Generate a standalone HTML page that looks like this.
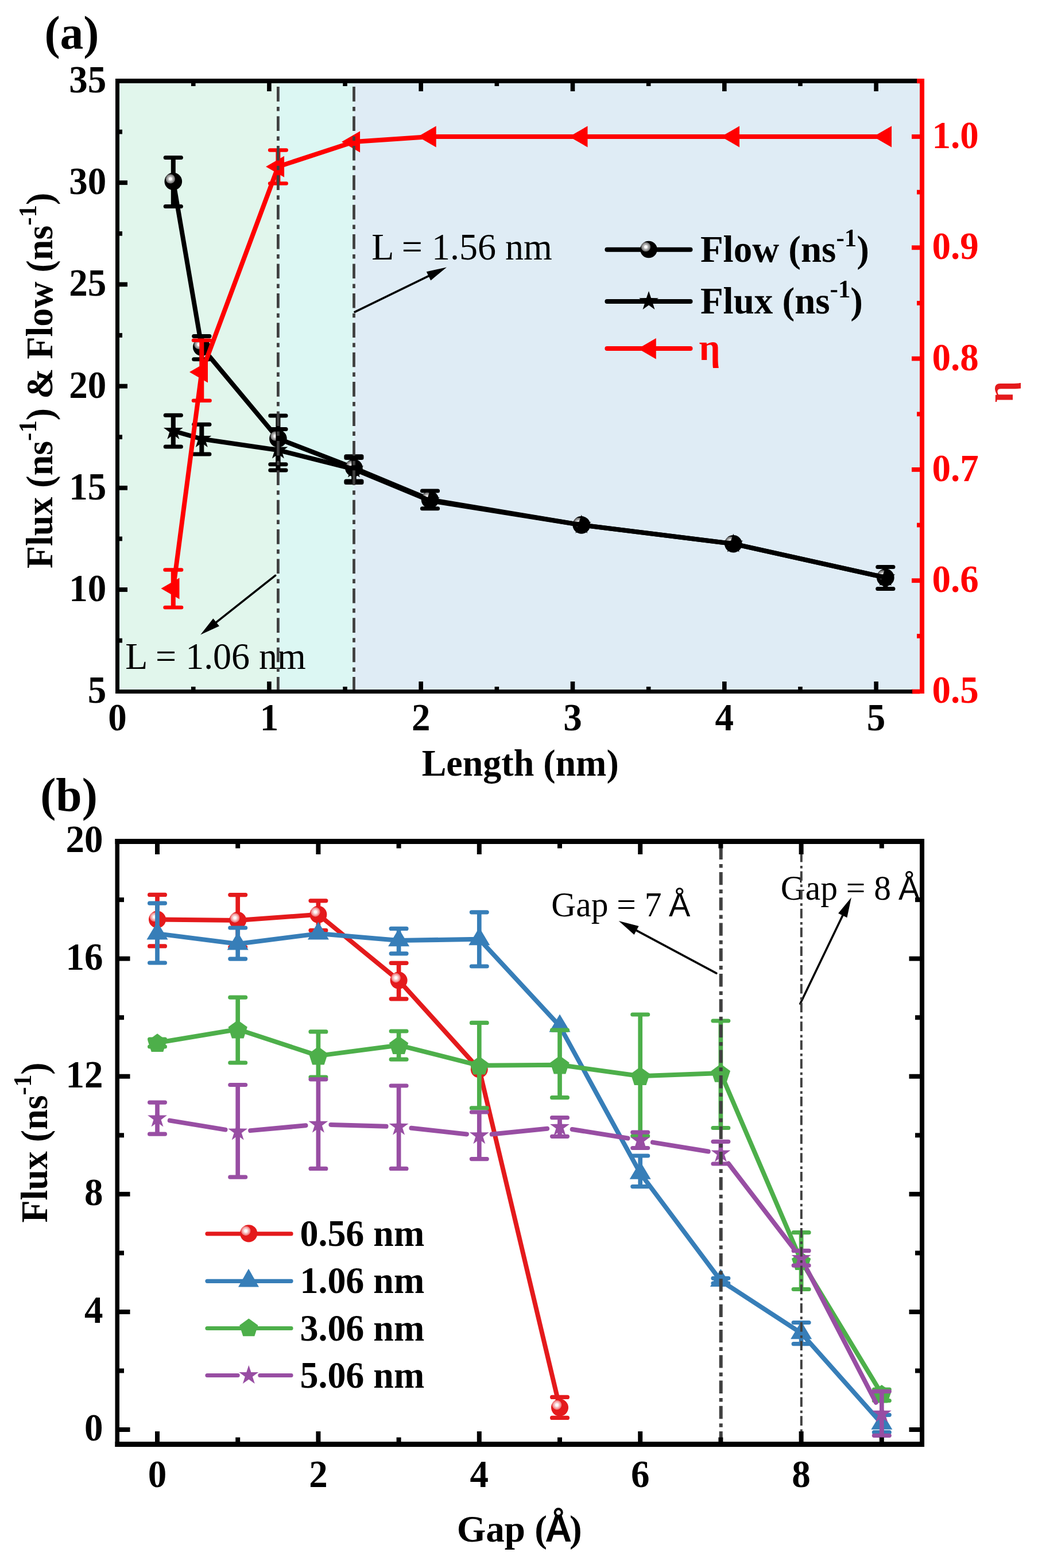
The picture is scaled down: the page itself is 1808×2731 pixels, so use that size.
<!DOCTYPE html>
<html><head><meta charset="utf-8"><title>Figure</title>
<style>html,body{margin:0;padding:0;background:#fff;}svg{display:block;}</style>
</head><body>
<svg width="1808" height="2731" viewBox="0 0 1808 2731"><rect x="208" y="145" width="276.4" height="1056" fill="#E1F6EC"/>
<rect x="484.4" y="145" width="132.1" height="1056" fill="#DCF7F3"/>
<rect x="616.5" y="145" width="985.5" height="1056" fill="#DFECF5"/>
<polyline points="301.8,316 351.3,604.6 484.4,764 616.4,815 749,870.3 1012.8,914.4 1277.3,947.2 1542.3,1005.9" fill="none" stroke="#000" stroke-width="8" stroke-linejoin="round" stroke-linecap="round"/>
<line x1="301.8" y1="274.4" x2="301.8" y2="359.4" stroke="#000" stroke-width="8" stroke-linecap="butt"/>
<line x1="288.2" y1="274.4" x2="315.4" y2="274.4" stroke="#000" stroke-width="7" stroke-linecap="round"/>
<line x1="288.2" y1="359.4" x2="315.4" y2="359.4" stroke="#000" stroke-width="7" stroke-linecap="round"/>
<line x1="351.3" y1="585.5" x2="351.3" y2="625.8" stroke="#000" stroke-width="8" stroke-linecap="butt"/>
<line x1="337.7" y1="585.5" x2="364.9" y2="585.5" stroke="#000" stroke-width="7" stroke-linecap="round"/>
<line x1="337.7" y1="625.8" x2="364.9" y2="625.8" stroke="#000" stroke-width="7" stroke-linecap="round"/>
<line x1="484.4" y1="724" x2="484.4" y2="808.7" stroke="#000" stroke-width="8" stroke-linecap="butt"/>
<line x1="470.8" y1="724" x2="498" y2="724" stroke="#000" stroke-width="7" stroke-linecap="round"/>
<line x1="470.8" y1="808.7" x2="498" y2="808.7" stroke="#000" stroke-width="7" stroke-linecap="round"/>
<line x1="616.4" y1="794.7" x2="616.4" y2="840.6" stroke="#000" stroke-width="8" stroke-linecap="butt"/>
<line x1="602.8" y1="794.7" x2="630" y2="794.7" stroke="#000" stroke-width="7" stroke-linecap="round"/>
<line x1="602.8" y1="840.6" x2="630" y2="840.6" stroke="#000" stroke-width="7" stroke-linecap="round"/>
<line x1="749" y1="855" x2="749" y2="885.8" stroke="#000" stroke-width="8" stroke-linecap="butt"/>
<line x1="735.4" y1="855" x2="762.6" y2="855" stroke="#000" stroke-width="7" stroke-linecap="round"/>
<line x1="735.4" y1="885.8" x2="762.6" y2="885.8" stroke="#000" stroke-width="7" stroke-linecap="round"/>
<line x1="1542.3" y1="987.5" x2="1542.3" y2="1025.5" stroke="#000" stroke-width="8" stroke-linecap="butt"/>
<line x1="1528.7" y1="987.5" x2="1555.9" y2="987.5" stroke="#000" stroke-width="7" stroke-linecap="round"/>
<line x1="1528.7" y1="1025.5" x2="1555.9" y2="1025.5" stroke="#000" stroke-width="7" stroke-linecap="round"/>
<circle cx="301.8" cy="316" r="15.3" fill="#000"/>
<circle cx="296.8" cy="311.5" r="8.1" fill="#808080"/>
<circle cx="296.8" cy="311.5" r="5.7" fill="#b4b4b4"/>
<circle cx="296.8" cy="311.5" r="3.1" fill="#fafafa"/>
<circle cx="351.3" cy="604.6" r="15.3" fill="#000"/>
<circle cx="346.3" cy="600.1" r="8.1" fill="#808080"/>
<circle cx="346.3" cy="600.1" r="5.7" fill="#b4b4b4"/>
<circle cx="346.3" cy="600.1" r="3.1" fill="#fafafa"/>
<circle cx="484.4" cy="764" r="15.3" fill="#000"/>
<circle cx="479.4" cy="759.5" r="8.1" fill="#808080"/>
<circle cx="479.4" cy="759.5" r="5.7" fill="#b4b4b4"/>
<circle cx="479.4" cy="759.5" r="3.1" fill="#fafafa"/>
<circle cx="616.4" cy="815" r="15.3" fill="#000"/>
<circle cx="611.4" cy="810.5" r="8.1" fill="#808080"/>
<circle cx="611.4" cy="810.5" r="5.7" fill="#b4b4b4"/>
<circle cx="611.4" cy="810.5" r="3.1" fill="#fafafa"/>
<circle cx="749" cy="870.3" r="15.3" fill="#000"/>
<circle cx="744" cy="865.8" r="8.1" fill="#808080"/>
<circle cx="744" cy="865.8" r="5.7" fill="#b4b4b4"/>
<circle cx="744" cy="865.8" r="3.1" fill="#fafafa"/>
<circle cx="1012.8" cy="914.4" r="15.3" fill="#000"/>
<circle cx="1007.8" cy="909.9" r="8.1" fill="#808080"/>
<circle cx="1007.8" cy="909.9" r="5.7" fill="#b4b4b4"/>
<circle cx="1007.8" cy="909.9" r="3.1" fill="#fafafa"/>
<circle cx="1277.3" cy="947.2" r="15.3" fill="#000"/>
<circle cx="1272.3" cy="942.7" r="8.1" fill="#808080"/>
<circle cx="1272.3" cy="942.7" r="5.7" fill="#b4b4b4"/>
<circle cx="1272.3" cy="942.7" r="3.1" fill="#fafafa"/>
<circle cx="1542.3" cy="1005.9" r="15.3" fill="#000"/>
<circle cx="1537.3" cy="1001.4" r="8.1" fill="#808080"/>
<circle cx="1537.3" cy="1001.4" r="5.7" fill="#b4b4b4"/>
<circle cx="1537.3" cy="1001.4" r="3.1" fill="#fafafa"/>
<polyline points="301.8,750.5 351.3,764.5 484.4,784 616.4,817 749,872 1012.8,914.4 1277.3,947.2 1542.3,1005.9" fill="none" stroke="#000" stroke-width="8" stroke-linejoin="round" stroke-linecap="round"/>
<line x1="301.8" y1="723.3" x2="301.8" y2="778.1" stroke="#000" stroke-width="8" stroke-linecap="butt"/>
<line x1="288.2" y1="723.3" x2="315.4" y2="723.3" stroke="#000" stroke-width="7" stroke-linecap="round"/>
<line x1="288.2" y1="778.1" x2="315.4" y2="778.1" stroke="#000" stroke-width="7" stroke-linecap="round"/>
<line x1="351.3" y1="739.3" x2="351.3" y2="790.9" stroke="#000" stroke-width="8" stroke-linecap="butt"/>
<line x1="337.7" y1="739.3" x2="364.9" y2="739.3" stroke="#000" stroke-width="7" stroke-linecap="round"/>
<line x1="337.7" y1="790.9" x2="364.9" y2="790.9" stroke="#000" stroke-width="7" stroke-linecap="round"/>
<line x1="484.4" y1="747.5" x2="484.4" y2="819" stroke="#000" stroke-width="8" stroke-linecap="butt"/>
<line x1="470.8" y1="747.5" x2="498" y2="747.5" stroke="#000" stroke-width="7" stroke-linecap="round"/>
<line x1="470.8" y1="819" x2="498" y2="819" stroke="#000" stroke-width="7" stroke-linecap="round"/>
<line x1="616.4" y1="797.5" x2="616.4" y2="838" stroke="#000" stroke-width="8" stroke-linecap="butt"/>
<line x1="602.8" y1="797.5" x2="630" y2="797.5" stroke="#000" stroke-width="7" stroke-linecap="round"/>
<line x1="602.8" y1="838" x2="630" y2="838" stroke="#000" stroke-width="7" stroke-linecap="round"/>
<polygon points="301.8,732.7 305.86,744.92 318.73,745 308.36,752.63 312.26,764.9 301.8,757.4 291.34,764.9 295.24,752.63 284.87,745 297.74,744.92" fill="#000"/>
<polygon points="351.3,746.7 355.36,758.92 368.23,759 357.86,766.63 361.76,778.9 351.3,771.4 340.84,778.9 344.74,766.63 334.37,759 347.24,758.92" fill="#000"/>
<polygon points="484.4,766.2 488.46,778.42 501.33,778.5 490.96,786.13 494.86,798.4 484.4,790.9 473.94,798.4 477.84,786.13 467.47,778.5 480.34,778.42" fill="#000"/>
<polygon points="616.4,799.2 620.46,811.42 633.33,811.5 622.96,819.13 626.86,831.4 616.4,823.9 605.94,831.4 609.84,819.13 599.47,811.5 612.34,811.42" fill="#000"/>
<polygon points="749,854.2 753.06,866.42 765.93,866.5 755.56,874.13 759.46,886.4 749,878.9 738.54,886.4 742.44,874.13 732.07,866.5 744.94,866.42" fill="#000"/>
<polygon points="1012.8,896.6 1016.86,908.82 1029.73,908.9 1019.36,916.53 1023.26,928.8 1012.8,921.3 1002.34,928.8 1006.24,916.53 995.87,908.9 1008.74,908.82" fill="#000"/>
<polygon points="1277.3,929.4 1281.36,941.62 1294.23,941.7 1283.86,949.33 1287.76,961.6 1277.3,954.1 1266.84,961.6 1270.74,949.33 1260.37,941.7 1273.24,941.62" fill="#000"/>
<polygon points="1542.3,988.1 1546.36,1000.32 1559.23,1000.4 1548.86,1008.03 1552.76,1020.3 1542.3,1012.8 1531.84,1020.3 1535.74,1008.03 1525.37,1000.4 1538.24,1000.32" fill="#000"/>
<polyline points="301.8,1025 351.3,648 484.4,290.3 616.4,247 749,238 1012.8,238 1277.3,238 1542.3,238" fill="none" stroke="#FF0000" stroke-width="8" stroke-linejoin="round" stroke-linecap="round"/>
<line x1="301.8" y1="992.6" x2="301.8" y2="1058" stroke="#FF0000" stroke-width="8" stroke-linecap="butt"/>
<line x1="287.55" y1="992.6" x2="316.05" y2="992.6" stroke="#FF0000" stroke-width="6.5" stroke-linecap="round"/>
<line x1="287.55" y1="1058" x2="316.05" y2="1058" stroke="#FF0000" stroke-width="6.5" stroke-linecap="round"/>
<line x1="351.3" y1="592.7" x2="351.3" y2="697.8" stroke="#FF0000" stroke-width="8" stroke-linecap="butt"/>
<line x1="337.05" y1="592.7" x2="365.55" y2="592.7" stroke="#FF0000" stroke-width="6.5" stroke-linecap="round"/>
<line x1="337.05" y1="697.8" x2="365.55" y2="697.8" stroke="#FF0000" stroke-width="6.5" stroke-linecap="round"/>
<line x1="484.4" y1="261.6" x2="484.4" y2="319.4" stroke="#FF0000" stroke-width="8" stroke-linecap="butt"/>
<line x1="470.15" y1="261.6" x2="498.65" y2="261.6" stroke="#FF0000" stroke-width="6.5" stroke-linecap="round"/>
<line x1="470.15" y1="319.4" x2="498.65" y2="319.4" stroke="#FF0000" stroke-width="6.5" stroke-linecap="round"/>
<polygon points="280.47,1025 312.47,1006.5 312.47,1043.5" fill="#FF0000"/>
<polygon points="329.97,648 361.97,629.5 361.97,666.5" fill="#FF0000"/>
<polygon points="463.07,290.3 495.07,271.8 495.07,308.8" fill="#FF0000"/>
<polygon points="595.07,247 627.07,228.5 627.07,265.5" fill="#FF0000"/>
<polygon points="727.67,238 759.67,219.5 759.67,256.5" fill="#FF0000"/>
<polygon points="991.47,238 1023.47,219.5 1023.47,256.5" fill="#FF0000"/>
<polygon points="1255.97,238 1287.97,219.5 1287.97,256.5" fill="#FF0000"/>
<polygon points="1520.97,238 1552.97,219.5 1552.97,256.5" fill="#FF0000"/>
<text x="647.16" y="452" font-family="'Liberation Serif','Times New Roman',serif" font-size="64" font-weight="normal" fill="#000" text-anchor="start" transform="matrix(1,0,0,1.02,0,-9.04)">L = 1.56 nm</text>
<text x="218.36" y="1164.8" font-family="'Liberation Serif','Times New Roman',serif" font-size="64" font-weight="normal" fill="#000" text-anchor="start" transform="matrix(1,0,0,1.02,0,-23.3)">L = 1.06 nm</text>
<line x1="618" y1="543.3" x2="748.32" y2="479.93" stroke="#000" stroke-width="3.6" stroke-linecap="round"/>
<polygon points="778,465.5 750.24,488.45 742.81,473.16" fill="#000"/>
<line x1="479.6" y1="1002.3" x2="375.07" y2="1085.11" stroke="#000" stroke-width="3.6" stroke-linecap="round"/>
<polygon points="349.2,1105.6 371.36,1077.2 381.91,1090.53" fill="#000"/>
<line x1="484.4" y1="151.1" x2="484.4" y2="1201" stroke="#404040" stroke-width="4.8" stroke-linecap="butt" stroke-dasharray="25.6 9.3 7.5 9"/>
<line x1="616.5" y1="151.1" x2="616.5" y2="1201" stroke="#404040" stroke-width="4.8" stroke-linecap="butt" stroke-dasharray="25.6 9.3 7.5 9"/>
<line x1="1057.4" y1="434.8" x2="1202.5" y2="434.8" stroke="#000" stroke-width="8" stroke-linecap="round"/>
<circle cx="1129.9" cy="434.5" r="14.8" fill="#000"/>
<circle cx="1124.9" cy="430" r="8.1" fill="#808080"/>
<circle cx="1124.9" cy="430" r="5.7" fill="#b4b4b4"/>
<circle cx="1124.9" cy="430" r="3.1" fill="#fafafa"/>
<line x1="1057.4" y1="525" x2="1202.5" y2="525" stroke="#000" stroke-width="8" stroke-linecap="round"/>
<polygon points="1130,506.9 1134.06,519.12 1146.93,519.2 1136.56,526.83 1140.46,539.1 1130,531.6 1119.54,539.1 1123.44,526.83 1113.07,519.2 1125.94,519.12" fill="#000"/>
<line x1="1057.4" y1="607" x2="1202.5" y2="607" stroke="#FF0000" stroke-width="8" stroke-linecap="round"/>
<polygon points="1111.37,607.2 1142.77,588.9 1142.77,625.5" fill="#FF0000"/>
<text x="1219.89" y="456.5" transform="matrix(1,0,0,1.02,0,-9.13)" font-family="'Liberation Serif','Times New Roman',serif" font-size="65" font-weight="bold">Flow (ns<tspan font-size="42.9" dy="-27">-1</tspan><tspan dy="27">)</tspan></text>
<text x="1219.89" y="545.8" transform="matrix(1,0,0,1.02,0,-10.92)" font-family="'Liberation Serif','Times New Roman',serif" font-size="65" font-weight="bold">Flux (ns<tspan font-size="42.9" dy="-27">-1</tspan><tspan dy="27">)</tspan></text>
<text x="1217.62" y="627" font-family="'Liberation Serif','Times New Roman',serif" font-size="65" font-weight="bold" fill="#FF0000" text-anchor="start" transform="matrix(1,0,0,1.02,0,-12.54)">η</text>
<line x1="336.75" y1="1201" x2="336.75" y2="1196" stroke="#000" stroke-width="7.6" stroke-linecap="butt"/>
<line x1="336.75" y1="145" x2="336.75" y2="150" stroke="#000" stroke-width="7.6" stroke-linecap="butt"/>
<line x1="468.9" y1="1201" x2="468.9" y2="1187" stroke="#000" stroke-width="7.6" stroke-linecap="butt"/>
<line x1="468.9" y1="145" x2="468.9" y2="159" stroke="#000" stroke-width="7.6" stroke-linecap="butt"/>
<line x1="601.05" y1="1201" x2="601.05" y2="1196" stroke="#000" stroke-width="7.6" stroke-linecap="butt"/>
<line x1="601.05" y1="145" x2="601.05" y2="150" stroke="#000" stroke-width="7.6" stroke-linecap="butt"/>
<line x1="733.2" y1="1201" x2="733.2" y2="1187" stroke="#000" stroke-width="7.6" stroke-linecap="butt"/>
<line x1="733.2" y1="145" x2="733.2" y2="159" stroke="#000" stroke-width="7.6" stroke-linecap="butt"/>
<line x1="865.35" y1="1201" x2="865.35" y2="1196" stroke="#000" stroke-width="7.6" stroke-linecap="butt"/>
<line x1="865.35" y1="145" x2="865.35" y2="150" stroke="#000" stroke-width="7.6" stroke-linecap="butt"/>
<line x1="997.5" y1="1201" x2="997.5" y2="1187" stroke="#000" stroke-width="7.6" stroke-linecap="butt"/>
<line x1="997.5" y1="145" x2="997.5" y2="159" stroke="#000" stroke-width="7.6" stroke-linecap="butt"/>
<line x1="1129.65" y1="1201" x2="1129.65" y2="1196" stroke="#000" stroke-width="7.6" stroke-linecap="butt"/>
<line x1="1129.65" y1="145" x2="1129.65" y2="150" stroke="#000" stroke-width="7.6" stroke-linecap="butt"/>
<line x1="1261.8" y1="1201" x2="1261.8" y2="1187" stroke="#000" stroke-width="7.6" stroke-linecap="butt"/>
<line x1="1261.8" y1="145" x2="1261.8" y2="159" stroke="#000" stroke-width="7.6" stroke-linecap="butt"/>
<line x1="1393.95" y1="1201" x2="1393.95" y2="1196" stroke="#000" stroke-width="7.6" stroke-linecap="butt"/>
<line x1="1393.95" y1="145" x2="1393.95" y2="150" stroke="#000" stroke-width="7.6" stroke-linecap="butt"/>
<line x1="1526.1" y1="1201" x2="1526.1" y2="1187" stroke="#000" stroke-width="7.6" stroke-linecap="butt"/>
<line x1="1526.1" y1="145" x2="1526.1" y2="159" stroke="#000" stroke-width="7.6" stroke-linecap="butt"/>
<line x1="208" y1="1115.6" x2="213" y2="1115.6" stroke="#000" stroke-width="7.8" stroke-linecap="butt"/>
<line x1="208" y1="1027" x2="222" y2="1027" stroke="#000" stroke-width="7.8" stroke-linecap="butt"/>
<line x1="208" y1="938.4" x2="213" y2="938.4" stroke="#000" stroke-width="7.8" stroke-linecap="butt"/>
<line x1="208" y1="849.8" x2="222" y2="849.8" stroke="#000" stroke-width="7.8" stroke-linecap="butt"/>
<line x1="208" y1="761.2" x2="213" y2="761.2" stroke="#000" stroke-width="7.8" stroke-linecap="butt"/>
<line x1="208" y1="672.6" x2="222" y2="672.6" stroke="#000" stroke-width="7.8" stroke-linecap="butt"/>
<line x1="208" y1="584" x2="213" y2="584" stroke="#000" stroke-width="7.8" stroke-linecap="butt"/>
<line x1="208" y1="495.4" x2="222" y2="495.4" stroke="#000" stroke-width="7.8" stroke-linecap="butt"/>
<line x1="208" y1="406.8" x2="213" y2="406.8" stroke="#000" stroke-width="7.8" stroke-linecap="butt"/>
<line x1="208" y1="318.2" x2="222" y2="318.2" stroke="#000" stroke-width="7.8" stroke-linecap="butt"/>
<line x1="208" y1="229.6" x2="213" y2="229.6" stroke="#000" stroke-width="7.8" stroke-linecap="butt"/>
<line x1="1602" y1="1204.5" x2="1588" y2="1204.5" stroke="#FF0000" stroke-width="7.8" stroke-linecap="butt"/>
<line x1="1602" y1="1107.85" x2="1597" y2="1107.85" stroke="#FF0000" stroke-width="7.8" stroke-linecap="butt"/>
<line x1="1602" y1="1011.2" x2="1588" y2="1011.2" stroke="#FF0000" stroke-width="7.8" stroke-linecap="butt"/>
<line x1="1602" y1="914.55" x2="1597" y2="914.55" stroke="#FF0000" stroke-width="7.8" stroke-linecap="butt"/>
<line x1="1602" y1="817.9" x2="1588" y2="817.9" stroke="#FF0000" stroke-width="7.8" stroke-linecap="butt"/>
<line x1="1602" y1="721.25" x2="1597" y2="721.25" stroke="#FF0000" stroke-width="7.8" stroke-linecap="butt"/>
<line x1="1602" y1="624.6" x2="1588" y2="624.6" stroke="#FF0000" stroke-width="7.8" stroke-linecap="butt"/>
<line x1="1602" y1="527.95" x2="1597" y2="527.95" stroke="#FF0000" stroke-width="7.8" stroke-linecap="butt"/>
<line x1="1602" y1="431.3" x2="1588" y2="431.3" stroke="#FF0000" stroke-width="7.8" stroke-linecap="butt"/>
<line x1="1602" y1="334.65" x2="1597" y2="334.65" stroke="#FF0000" stroke-width="7.8" stroke-linecap="butt"/>
<line x1="1602" y1="238" x2="1588" y2="238" stroke="#FF0000" stroke-width="7.8" stroke-linecap="butt"/>
<line x1="1602" y1="141.35" x2="1597" y2="141.35" stroke="#FF0000" stroke-width="7.8" stroke-linecap="butt"/>
<rect x="201" y="137" width="1396" height="8" fill="#000"/>
<rect x="201" y="1201" width="1388" height="7" fill="#000"/>
<rect x="201" y="137" width="7" height="1071" fill="#000"/>
<rect x="1602" y="137" width="8" height="1071" fill="#FF0000"/>
<rect x="1597" y="137" width="13" height="8" fill="#FF0000"/>
<text x="185.3" y="1224.2" font-family="'Liberation Serif','Times New Roman',serif" font-size="65" font-weight="bold" fill="#000" text-anchor="end" transform="matrix(1,0,0,1.045,0,-55.09)">5</text>
<text x="185.3" y="1047" font-family="'Liberation Serif','Times New Roman',serif" font-size="65" font-weight="bold" fill="#000" text-anchor="end" transform="matrix(1,0,0,1.045,0,-47.11)">10</text>
<text x="185.3" y="869.8" font-family="'Liberation Serif','Times New Roman',serif" font-size="65" font-weight="bold" fill="#000" text-anchor="end" transform="matrix(1,0,0,1.045,0,-39.14)">15</text>
<text x="185.3" y="692.6" font-family="'Liberation Serif','Times New Roman',serif" font-size="65" font-weight="bold" fill="#000" text-anchor="end" transform="matrix(1,0,0,1.045,0,-31.17)">20</text>
<text x="185.3" y="515.4" font-family="'Liberation Serif','Times New Roman',serif" font-size="65" font-weight="bold" fill="#000" text-anchor="end" transform="matrix(1,0,0,1.045,0,-23.19)">25</text>
<text x="185.3" y="338.2" font-family="'Liberation Serif','Times New Roman',serif" font-size="65" font-weight="bold" fill="#000" text-anchor="end" transform="matrix(1,0,0,1.045,0,-15.22)">30</text>
<text x="185.3" y="161" font-family="'Liberation Serif','Times New Roman',serif" font-size="65" font-weight="bold" fill="#000" text-anchor="end" transform="matrix(1,0,0,1.045,0,-7.24)">35</text>
<text x="204.6" y="1272.5" font-family="'Liberation Serif','Times New Roman',serif" font-size="65" font-weight="bold" fill="#000" text-anchor="middle" transform="matrix(1,0,0,1.045,0,-57.26)">0</text>
<text x="468.9" y="1272.5" font-family="'Liberation Serif','Times New Roman',serif" font-size="65" font-weight="bold" fill="#000" text-anchor="middle" transform="matrix(1,0,0,1.045,0,-57.26)">1</text>
<text x="733.2" y="1272.5" font-family="'Liberation Serif','Times New Roman',serif" font-size="65" font-weight="bold" fill="#000" text-anchor="middle" transform="matrix(1,0,0,1.045,0,-57.26)">2</text>
<text x="997.5" y="1272.5" font-family="'Liberation Serif','Times New Roman',serif" font-size="65" font-weight="bold" fill="#000" text-anchor="middle" transform="matrix(1,0,0,1.045,0,-57.26)">3</text>
<text x="1261.8" y="1272.5" font-family="'Liberation Serif','Times New Roman',serif" font-size="65" font-weight="bold" fill="#000" text-anchor="middle" transform="matrix(1,0,0,1.045,0,-57.26)">4</text>
<text x="1526.1" y="1272.5" font-family="'Liberation Serif','Times New Roman',serif" font-size="65" font-weight="bold" fill="#000" text-anchor="middle" transform="matrix(1,0,0,1.045,0,-57.26)">5</text>
<text x="1623.4" y="1224.5" font-family="'Liberation Serif','Times New Roman',serif" font-size="65" font-weight="bold" fill="#FF0000" text-anchor="start" transform="matrix(1,0,0,1.045,0,-55.1)">0.5</text>
<text x="1623.4" y="1031.2" font-family="'Liberation Serif','Times New Roman',serif" font-size="65" font-weight="bold" fill="#FF0000" text-anchor="start" transform="matrix(1,0,0,1.045,0,-46.4)">0.6</text>
<text x="1623.4" y="837.9" font-family="'Liberation Serif','Times New Roman',serif" font-size="65" font-weight="bold" fill="#FF0000" text-anchor="start" transform="matrix(1,0,0,1.045,0,-37.71)">0.7</text>
<text x="1623.4" y="644.6" font-family="'Liberation Serif','Times New Roman',serif" font-size="65" font-weight="bold" fill="#FF0000" text-anchor="start" transform="matrix(1,0,0,1.045,0,-29.01)">0.8</text>
<text x="1623.4" y="451.3" font-family="'Liberation Serif','Times New Roman',serif" font-size="65" font-weight="bold" fill="#FF0000" text-anchor="start" transform="matrix(1,0,0,1.045,0,-20.31)">0.9</text>
<text x="1623.4" y="258" font-family="'Liberation Serif','Times New Roman',serif" font-size="65" font-weight="bold" fill="#FF0000" text-anchor="start" transform="matrix(1,0,0,1.045,0,-11.61)">1.0</text>
<text x="77.42" y="85" font-family="'Liberation Serif','Times New Roman',serif" font-size="81.5" font-weight="bold" fill="#000" text-anchor="start">(a)</text>
<text x="734.71" y="1350.8" font-family="'Liberation Serif','Times New Roman',serif" font-size="64" font-weight="bold" fill="#000" text-anchor="start" transform="matrix(1,0,0,1.02,0,-27.02)">Length (nm)</text>
<text transform="translate(91,990.1) rotate(-90) scale(1,1.02)" x="0" y="0" font-family="'Liberation Serif','Times New Roman',serif" font-size="64" font-weight="bold" fill="#000">Flux (ns<tspan font-size="42.9" dy="-27">-1</tspan><tspan dy="27">) &amp; Flow (ns</tspan><tspan font-size="42.9" dy="-27">-1</tspan><tspan dy="27">)</tspan></text>
<text transform="translate(1763.6,701) rotate(-90) scale(1,1.02)" x="0" y="0" font-family="'Liberation Serif','Times New Roman',serif" font-size="65" font-weight="bold" fill="#E41A1C">η</text>
<polyline points="274,1601.49 414.2,1603.03 554.4,1592.78 694.6,1707.62 834.8,1862.46 975,2451.55" fill="none" stroke="#E41A1C" stroke-width="8" stroke-linejoin="round" stroke-linecap="round"/>
<line x1="274" y1="1558.4" x2="274" y2="1647.9" stroke="#E41A1C" stroke-width="7.7" stroke-linecap="butt"/>
<line x1="260.6" y1="1558.4" x2="287.4" y2="1558.4" stroke="#E41A1C" stroke-width="7.2" stroke-linecap="round"/>
<line x1="260.6" y1="1647.9" x2="287.4" y2="1647.9" stroke="#E41A1C" stroke-width="7.2" stroke-linecap="round"/>
<line x1="414.2" y1="1558.6" x2="414.2" y2="1649.7" stroke="#E41A1C" stroke-width="7.7" stroke-linecap="butt"/>
<line x1="400.8" y1="1558.6" x2="427.6" y2="1558.6" stroke="#E41A1C" stroke-width="7.2" stroke-linecap="round"/>
<line x1="400.8" y1="1649.7" x2="427.6" y2="1649.7" stroke="#E41A1C" stroke-width="7.2" stroke-linecap="round"/>
<line x1="554.4" y1="1568.8" x2="554.4" y2="1620.4" stroke="#E41A1C" stroke-width="7.7" stroke-linecap="butt"/>
<line x1="541" y1="1568.8" x2="567.8" y2="1568.8" stroke="#E41A1C" stroke-width="7.2" stroke-linecap="round"/>
<line x1="541" y1="1620.4" x2="567.8" y2="1620.4" stroke="#E41A1C" stroke-width="7.2" stroke-linecap="round"/>
<line x1="694.6" y1="1677.3" x2="694.6" y2="1739.8" stroke="#E41A1C" stroke-width="7.7" stroke-linecap="butt"/>
<line x1="681.2" y1="1677.3" x2="708" y2="1677.3" stroke="#E41A1C" stroke-width="7.2" stroke-linecap="round"/>
<line x1="681.2" y1="1739.8" x2="708" y2="1739.8" stroke="#E41A1C" stroke-width="7.2" stroke-linecap="round"/>
<line x1="975" y1="2433.4" x2="975" y2="2469.4" stroke="#E41A1C" stroke-width="7.7" stroke-linecap="butt"/>
<line x1="961.6" y1="2433.4" x2="988.4" y2="2433.4" stroke="#E41A1C" stroke-width="7.2" stroke-linecap="round"/>
<line x1="961.6" y1="2469.4" x2="988.4" y2="2469.4" stroke="#E41A1C" stroke-width="7.2" stroke-linecap="round"/>
<circle cx="274" cy="1601.49" r="15" fill="#E41A1C"/>
<circle cx="269" cy="1596.99" r="8.1" fill="#F08A8C"/>
<circle cx="269" cy="1596.99" r="5.7" fill="#F8C4C5"/>
<circle cx="269" cy="1596.99" r="3.1" fill="#fafafa"/>
<circle cx="414.2" cy="1603.03" r="15" fill="#E41A1C"/>
<circle cx="409.2" cy="1598.53" r="8.1" fill="#F08A8C"/>
<circle cx="409.2" cy="1598.53" r="5.7" fill="#F8C4C5"/>
<circle cx="409.2" cy="1598.53" r="3.1" fill="#fafafa"/>
<circle cx="554.4" cy="1592.78" r="15" fill="#E41A1C"/>
<circle cx="549.4" cy="1588.28" r="8.1" fill="#F08A8C"/>
<circle cx="549.4" cy="1588.28" r="5.7" fill="#F8C4C5"/>
<circle cx="549.4" cy="1588.28" r="3.1" fill="#fafafa"/>
<circle cx="694.6" cy="1707.62" r="15" fill="#E41A1C"/>
<circle cx="689.6" cy="1703.12" r="8.1" fill="#F08A8C"/>
<circle cx="689.6" cy="1703.12" r="5.7" fill="#F8C4C5"/>
<circle cx="689.6" cy="1703.12" r="3.1" fill="#fafafa"/>
<circle cx="834.8" cy="1862.46" r="15" fill="#E41A1C"/>
<circle cx="829.8" cy="1857.96" r="8.1" fill="#F08A8C"/>
<circle cx="829.8" cy="1857.96" r="5.7" fill="#F8C4C5"/>
<circle cx="829.8" cy="1857.96" r="3.1" fill="#fafafa"/>
<circle cx="975" cy="2451.55" r="15" fill="#E41A1C"/>
<circle cx="970" cy="2447.05" r="8.1" fill="#F08A8C"/>
<circle cx="970" cy="2447.05" r="5.7" fill="#F8C4C5"/>
<circle cx="970" cy="2447.05" r="3.1" fill="#fafafa"/>
<polyline points="274,1626.1 414.2,1644.05 554.4,1626.1 694.6,1637.89 834.8,1635.84 975,1787.09 1115.2,2043.44 1255.4,2230.57 1395.6,2321.83 1535.8,2479.49" fill="none" stroke="#377EB8" stroke-width="8" stroke-linejoin="round" stroke-linecap="round"/>
<line x1="274" y1="1573.2" x2="274" y2="1677" stroke="#377EB8" stroke-width="7.7" stroke-linecap="butt"/>
<line x1="260.6" y1="1573.2" x2="287.4" y2="1573.2" stroke="#377EB8" stroke-width="7.2" stroke-linecap="round"/>
<line x1="260.6" y1="1677" x2="287.4" y2="1677" stroke="#377EB8" stroke-width="7.2" stroke-linecap="round"/>
<line x1="414.2" y1="1616" x2="414.2" y2="1670.1" stroke="#377EB8" stroke-width="7.7" stroke-linecap="butt"/>
<line x1="400.8" y1="1616" x2="427.6" y2="1616" stroke="#377EB8" stroke-width="7.2" stroke-linecap="round"/>
<line x1="400.8" y1="1670.1" x2="427.6" y2="1670.1" stroke="#377EB8" stroke-width="7.2" stroke-linecap="round"/>
<line x1="694.6" y1="1617.4" x2="694.6" y2="1660.8" stroke="#377EB8" stroke-width="7.7" stroke-linecap="butt"/>
<line x1="681.2" y1="1617.4" x2="708" y2="1617.4" stroke="#377EB8" stroke-width="7.2" stroke-linecap="round"/>
<line x1="681.2" y1="1660.8" x2="708" y2="1660.8" stroke="#377EB8" stroke-width="7.2" stroke-linecap="round"/>
<line x1="834.8" y1="1588.8" x2="834.8" y2="1683" stroke="#377EB8" stroke-width="7.7" stroke-linecap="butt"/>
<line x1="821.4" y1="1588.8" x2="848.2" y2="1588.8" stroke="#377EB8" stroke-width="7.2" stroke-linecap="round"/>
<line x1="821.4" y1="1683" x2="848.2" y2="1683" stroke="#377EB8" stroke-width="7.2" stroke-linecap="round"/>
<line x1="1115.2" y1="2013" x2="1115.2" y2="2066.6" stroke="#377EB8" stroke-width="7.7" stroke-linecap="butt"/>
<line x1="1101.8" y1="2013" x2="1128.6" y2="2013" stroke="#377EB8" stroke-width="7.2" stroke-linecap="round"/>
<line x1="1101.8" y1="2066.6" x2="1128.6" y2="2066.6" stroke="#377EB8" stroke-width="7.2" stroke-linecap="round"/>
<line x1="1255.4" y1="2226.3" x2="1255.4" y2="2235" stroke="#377EB8" stroke-width="7.7" stroke-linecap="butt"/>
<line x1="1242" y1="2226.3" x2="1268.8" y2="2226.3" stroke="#377EB8" stroke-width="7.2" stroke-linecap="round"/>
<line x1="1242" y1="2235" x2="1268.8" y2="2235" stroke="#377EB8" stroke-width="7.2" stroke-linecap="round"/>
<line x1="1395.6" y1="2303.5" x2="1395.6" y2="2340.7" stroke="#377EB8" stroke-width="7.7" stroke-linecap="butt"/>
<line x1="1382.2" y1="2303.5" x2="1409" y2="2303.5" stroke="#377EB8" stroke-width="7.2" stroke-linecap="round"/>
<line x1="1382.2" y1="2340.7" x2="1409" y2="2340.7" stroke="#377EB8" stroke-width="7.2" stroke-linecap="round"/>
<line x1="1535.8" y1="2464.3" x2="1535.8" y2="2494.7" stroke="#377EB8" stroke-width="7.7" stroke-linecap="butt"/>
<line x1="1522.4" y1="2464.3" x2="1549.2" y2="2464.3" stroke="#377EB8" stroke-width="7.2" stroke-linecap="round"/>
<line x1="1522.4" y1="2494.7" x2="1549.2" y2="2494.7" stroke="#377EB8" stroke-width="7.2" stroke-linecap="round"/>
<polygon points="274,1605.43 292.5,1636.43 255.5,1636.43" fill="#377EB8"/>
<polygon points="414.2,1623.38 432.7,1654.38 395.7,1654.38" fill="#377EB8"/>
<polygon points="554.4,1605.43 572.9,1636.43 535.9,1636.43" fill="#377EB8"/>
<polygon points="694.6,1617.23 713.1,1648.23 676.1,1648.23" fill="#377EB8"/>
<polygon points="834.8,1615.18 853.3,1646.18 816.3,1646.18" fill="#377EB8"/>
<polygon points="975,1766.42 993.5,1797.42 956.5,1797.42" fill="#377EB8"/>
<polygon points="1115.2,2022.77 1133.7,2053.77 1096.7,2053.77" fill="#377EB8"/>
<polygon points="1255.4,2209.91 1273.9,2240.91 1236.9,2240.91" fill="#377EB8"/>
<polygon points="1395.6,2301.17 1414.1,2332.17 1377.1,2332.17" fill="#377EB8"/>
<polygon points="1535.8,2458.82 1554.3,2489.82 1517.3,2489.82" fill="#377EB8"/>
<polyline points="274,1816.31 414.2,1792.73 554.4,1838.87 694.6,1820.41 834.8,1855.79 975,1854.76 1115.2,1874.25 1255.4,1869.12 1395.6,2196.22 1535.8,2427.96" fill="none" stroke="#4DAF4A" stroke-width="8" stroke-linejoin="round" stroke-linecap="round"/>
<line x1="274" y1="1810" x2="274" y2="1823" stroke="#4DAF4A" stroke-width="7.7" stroke-linecap="butt"/>
<line x1="260.6" y1="1810" x2="287.4" y2="1810" stroke="#4DAF4A" stroke-width="7.2" stroke-linecap="round"/>
<line x1="260.6" y1="1823" x2="287.4" y2="1823" stroke="#4DAF4A" stroke-width="7.2" stroke-linecap="round"/>
<line x1="414.2" y1="1737.2" x2="414.2" y2="1851" stroke="#4DAF4A" stroke-width="7.7" stroke-linecap="butt"/>
<line x1="400.8" y1="1737.2" x2="427.6" y2="1737.2" stroke="#4DAF4A" stroke-width="7.2" stroke-linecap="round"/>
<line x1="400.8" y1="1851" x2="427.6" y2="1851" stroke="#4DAF4A" stroke-width="7.2" stroke-linecap="round"/>
<line x1="554.4" y1="1796.9" x2="554.4" y2="1876" stroke="#4DAF4A" stroke-width="7.7" stroke-linecap="butt"/>
<line x1="541" y1="1796.9" x2="567.8" y2="1796.9" stroke="#4DAF4A" stroke-width="7.2" stroke-linecap="round"/>
<line x1="541" y1="1876" x2="567.8" y2="1876" stroke="#4DAF4A" stroke-width="7.2" stroke-linecap="round"/>
<line x1="694.6" y1="1796" x2="694.6" y2="1845.2" stroke="#4DAF4A" stroke-width="7.7" stroke-linecap="butt"/>
<line x1="681.2" y1="1796" x2="708" y2="1796" stroke="#4DAF4A" stroke-width="7.2" stroke-linecap="round"/>
<line x1="681.2" y1="1845.2" x2="708" y2="1845.2" stroke="#4DAF4A" stroke-width="7.2" stroke-linecap="round"/>
<line x1="834.8" y1="1781.4" x2="834.8" y2="1929.9" stroke="#4DAF4A" stroke-width="7.7" stroke-linecap="butt"/>
<line x1="821.4" y1="1781.4" x2="848.2" y2="1781.4" stroke="#4DAF4A" stroke-width="7.2" stroke-linecap="round"/>
<line x1="821.4" y1="1929.9" x2="848.2" y2="1929.9" stroke="#4DAF4A" stroke-width="7.2" stroke-linecap="round"/>
<line x1="975" y1="1794.2" x2="975" y2="1911.7" stroke="#4DAF4A" stroke-width="7.7" stroke-linecap="butt"/>
<line x1="961.6" y1="1794.2" x2="988.4" y2="1794.2" stroke="#4DAF4A" stroke-width="7.2" stroke-linecap="round"/>
<line x1="961.6" y1="1911.7" x2="988.4" y2="1911.7" stroke="#4DAF4A" stroke-width="7.2" stroke-linecap="round"/>
<line x1="1115.2" y1="1767" x2="1115.2" y2="1978.6" stroke="#4DAF4A" stroke-width="7.7" stroke-linecap="butt"/>
<line x1="1101.8" y1="1767" x2="1128.6" y2="1767" stroke="#4DAF4A" stroke-width="7.2" stroke-linecap="round"/>
<line x1="1101.8" y1="1978.6" x2="1128.6" y2="1978.6" stroke="#4DAF4A" stroke-width="7.2" stroke-linecap="round"/>
<line x1="1255.4" y1="1778" x2="1255.4" y2="1964.5" stroke="#4DAF4A" stroke-width="7.7" stroke-linecap="butt"/>
<line x1="1242" y1="1778" x2="1268.8" y2="1778" stroke="#4DAF4A" stroke-width="7.2" stroke-linecap="round"/>
<line x1="1242" y1="1964.5" x2="1268.8" y2="1964.5" stroke="#4DAF4A" stroke-width="7.2" stroke-linecap="round"/>
<line x1="1395.6" y1="2146.7" x2="1395.6" y2="2245.5" stroke="#4DAF4A" stroke-width="7.7" stroke-linecap="butt"/>
<line x1="1382.2" y1="2146.7" x2="1409" y2="2146.7" stroke="#4DAF4A" stroke-width="7.2" stroke-linecap="round"/>
<line x1="1382.2" y1="2245.5" x2="1409" y2="2245.5" stroke="#4DAF4A" stroke-width="7.2" stroke-linecap="round"/>
<line x1="1535.8" y1="2420" x2="1535.8" y2="2439.5" stroke="#4DAF4A" stroke-width="7.7" stroke-linecap="butt"/>
<line x1="1522.4" y1="2420" x2="1549.2" y2="2420" stroke="#4DAF4A" stroke-width="7.2" stroke-linecap="round"/>
<line x1="1522.4" y1="2439.5" x2="1549.2" y2="2439.5" stroke="#4DAF4A" stroke-width="7.2" stroke-linecap="round"/>
<polygon points="274,1800.31 290.64,1812.4 284.29,1831.97 263.71,1831.97 257.36,1812.4" fill="#4DAF4A"/>
<polygon points="414.2,1776.73 430.84,1788.82 424.49,1808.39 403.91,1808.39 397.56,1788.82" fill="#4DAF4A"/>
<polygon points="554.4,1822.87 571.04,1834.96 564.69,1854.53 544.11,1854.53 537.76,1834.96" fill="#4DAF4A"/>
<polygon points="694.6,1804.41 711.24,1816.51 704.89,1836.07 684.31,1836.07 677.96,1816.51" fill="#4DAF4A"/>
<polygon points="834.8,1839.79 851.44,1851.88 845.09,1871.45 824.51,1871.45 818.16,1851.88" fill="#4DAF4A"/>
<polygon points="975,1838.76 991.64,1850.86 985.29,1870.42 964.71,1870.42 958.36,1850.86" fill="#4DAF4A"/>
<polygon points="1115.2,1858.25 1131.84,1870.34 1125.49,1889.91 1104.91,1889.91 1098.56,1870.34" fill="#4DAF4A"/>
<polygon points="1255.4,1853.12 1272.04,1865.21 1265.69,1884.78 1245.11,1884.78 1238.76,1865.21" fill="#4DAF4A"/>
<polygon points="1395.6,2180.22 1412.24,2192.32 1405.89,2211.88 1385.31,2211.88 1378.96,2192.32" fill="#4DAF4A"/>
<polygon points="1535.8,2411.96 1552.44,2424.06 1546.09,2443.62 1525.51,2443.62 1519.16,2424.06" fill="#4DAF4A"/>
<line x1="295.71" y1="1951.65" x2="392.49" y2="1967.58" stroke="#984EA3" stroke-width="8" stroke-linecap="round"/>
<line x1="436.11" y1="1969.14" x2="532.49" y2="1960.33" stroke="#984EA3" stroke-width="8" stroke-linecap="round"/>
<line x1="576.39" y1="1958.97" x2="672.61" y2="1961.79" stroke="#984EA3" stroke-width="8" stroke-linecap="round"/>
<line x1="716.47" y1="1964.83" x2="812.93" y2="1975.41" stroke="#984EA3" stroke-width="8" stroke-linecap="round"/>
<line x1="856.69" y1="1975.57" x2="953.11" y2="1965.7" stroke="#984EA3" stroke-width="8" stroke-linecap="round"/>
<line x1="996.72" y1="1966.95" x2="1093.48" y2="1982.52" stroke="#984EA3" stroke-width="8" stroke-linecap="round"/>
<line x1="1136.91" y1="1989.59" x2="1233.69" y2="2005.52" stroke="#984EA3" stroke-width="8" stroke-linecap="round"/>
<line x1="1268.8" y1="2026.53" x2="1382.2" y2="2174.16" stroke="#984EA3" stroke-width="8" stroke-linecap="round"/>
<line x1="1405.72" y1="2211.14" x2="1525.68" y2="2442.78" stroke="#984EA3" stroke-width="8" stroke-linecap="round"/>
<line x1="274" y1="1920.1" x2="274" y2="1975.2" stroke="#984EA3" stroke-width="7.7" stroke-linecap="butt"/>
<line x1="260.6" y1="1920.1" x2="287.4" y2="1920.1" stroke="#984EA3" stroke-width="7.2" stroke-linecap="round"/>
<line x1="260.6" y1="1975.2" x2="287.4" y2="1975.2" stroke="#984EA3" stroke-width="7.2" stroke-linecap="round"/>
<line x1="414.2" y1="1889.5" x2="414.2" y2="2050.2" stroke="#984EA3" stroke-width="7.7" stroke-linecap="butt"/>
<line x1="400.8" y1="1889.5" x2="427.6" y2="1889.5" stroke="#984EA3" stroke-width="7.2" stroke-linecap="round"/>
<line x1="400.8" y1="2050.2" x2="427.6" y2="2050.2" stroke="#984EA3" stroke-width="7.2" stroke-linecap="round"/>
<line x1="554.4" y1="1879.8" x2="554.4" y2="2035.4" stroke="#984EA3" stroke-width="7.7" stroke-linecap="butt"/>
<line x1="541" y1="1879.8" x2="567.8" y2="1879.8" stroke="#984EA3" stroke-width="7.2" stroke-linecap="round"/>
<line x1="541" y1="2035.4" x2="567.8" y2="2035.4" stroke="#984EA3" stroke-width="7.2" stroke-linecap="round"/>
<line x1="694.6" y1="1891" x2="694.6" y2="2035.4" stroke="#984EA3" stroke-width="7.7" stroke-linecap="butt"/>
<line x1="681.2" y1="1891" x2="708" y2="1891" stroke="#984EA3" stroke-width="7.2" stroke-linecap="round"/>
<line x1="681.2" y1="2035.4" x2="708" y2="2035.4" stroke="#984EA3" stroke-width="7.2" stroke-linecap="round"/>
<line x1="834.8" y1="1937" x2="834.8" y2="2018.6" stroke="#984EA3" stroke-width="7.7" stroke-linecap="butt"/>
<line x1="821.4" y1="1937" x2="848.2" y2="1937" stroke="#984EA3" stroke-width="7.2" stroke-linecap="round"/>
<line x1="821.4" y1="2018.6" x2="848.2" y2="2018.6" stroke="#984EA3" stroke-width="7.2" stroke-linecap="round"/>
<line x1="975" y1="1946.7" x2="975" y2="1979.3" stroke="#984EA3" stroke-width="7.7" stroke-linecap="butt"/>
<line x1="961.6" y1="1946.7" x2="988.4" y2="1946.7" stroke="#984EA3" stroke-width="7.2" stroke-linecap="round"/>
<line x1="961.6" y1="1979.3" x2="988.4" y2="1979.3" stroke="#984EA3" stroke-width="7.2" stroke-linecap="round"/>
<line x1="1115.2" y1="1972.2" x2="1115.2" y2="1999.5" stroke="#984EA3" stroke-width="7.7" stroke-linecap="butt"/>
<line x1="1101.8" y1="1972.2" x2="1128.6" y2="1972.2" stroke="#984EA3" stroke-width="7.2" stroke-linecap="round"/>
<line x1="1101.8" y1="1999.5" x2="1128.6" y2="1999.5" stroke="#984EA3" stroke-width="7.2" stroke-linecap="round"/>
<line x1="1255.4" y1="1988.3" x2="1255.4" y2="2027" stroke="#984EA3" stroke-width="7.7" stroke-linecap="butt"/>
<line x1="1242" y1="1988.3" x2="1268.8" y2="1988.3" stroke="#984EA3" stroke-width="7.2" stroke-linecap="round"/>
<line x1="1242" y1="2027" x2="1268.8" y2="2027" stroke="#984EA3" stroke-width="7.2" stroke-linecap="round"/>
<line x1="1395.6" y1="2178.4" x2="1395.6" y2="2204.1" stroke="#984EA3" stroke-width="7.7" stroke-linecap="butt"/>
<line x1="1382.2" y1="2178.4" x2="1409" y2="2178.4" stroke="#984EA3" stroke-width="7.2" stroke-linecap="round"/>
<line x1="1382.2" y1="2204.1" x2="1409" y2="2204.1" stroke="#984EA3" stroke-width="7.2" stroke-linecap="round"/>
<line x1="1535.8" y1="2423.4" x2="1535.8" y2="2500.3" stroke="#984EA3" stroke-width="7.7" stroke-linecap="butt"/>
<line x1="1522.4" y1="2423.4" x2="1549.2" y2="2423.4" stroke="#984EA3" stroke-width="7.2" stroke-linecap="round"/>
<line x1="1522.4" y1="2500.3" x2="1549.2" y2="2500.3" stroke="#984EA3" stroke-width="7.2" stroke-linecap="round"/>
<polygon points="274,1930.28 278.06,1942.49 290.93,1942.58 280.56,1950.21 284.46,1962.48 274,1954.98 263.54,1962.48 267.44,1950.21 257.07,1942.58 269.94,1942.49" fill="#984EA3"/>
<polygon points="414.2,1953.35 418.26,1965.57 431.13,1965.65 420.76,1973.28 424.66,1985.55 414.2,1978.05 403.74,1985.55 407.64,1973.28 397.27,1965.65 410.14,1965.57" fill="#984EA3"/>
<polygon points="554.4,1940.53 558.46,1952.75 571.33,1952.83 560.96,1960.46 564.86,1972.73 554.4,1965.23 543.94,1972.73 547.84,1960.46 537.47,1952.83 550.34,1952.75" fill="#984EA3"/>
<polygon points="694.6,1944.63 698.66,1956.85 711.53,1956.93 701.16,1964.56 705.06,1976.83 694.6,1969.33 684.14,1976.83 688.04,1964.56 677.67,1956.93 690.54,1956.85" fill="#984EA3"/>
<polygon points="834.8,1960.01 838.86,1972.23 851.73,1972.31 841.36,1979.94 845.26,1992.21 834.8,1984.71 824.34,1992.21 828.24,1979.94 817.87,1972.31 830.74,1972.23" fill="#984EA3"/>
<polygon points="975,1945.66 979.06,1957.87 991.93,1957.96 981.56,1965.59 985.46,1977.86 975,1970.36 964.54,1977.86 968.44,1965.59 958.07,1957.96 970.94,1957.87" fill="#984EA3"/>
<polygon points="1115.2,1968.22 1119.26,1980.43 1132.13,1980.52 1121.76,1988.15 1125.66,2000.42 1115.2,1992.92 1104.74,2000.42 1108.64,1988.15 1098.27,1980.52 1111.14,1980.43" fill="#984EA3"/>
<polygon points="1255.4,1991.29 1259.46,2003.51 1272.33,2003.59 1261.96,2011.22 1265.86,2023.49 1255.4,2015.99 1244.94,2023.49 1248.84,2011.22 1238.47,2003.59 1251.34,2003.51" fill="#984EA3"/>
<polygon points="1395.6,2173.81 1399.66,2186.03 1412.53,2186.11 1402.16,2193.74 1406.06,2206.01 1395.6,2198.51 1385.14,2206.01 1389.04,2193.74 1378.67,2186.11 1391.54,2186.03" fill="#984EA3"/>
<polygon points="1535.8,2444.51 1539.86,2456.73 1552.73,2456.81 1542.36,2464.45 1546.26,2476.71 1535.8,2469.21 1525.34,2476.71 1529.24,2464.45 1518.87,2456.81 1531.74,2456.73" fill="#984EA3"/>
<text x="960.36" y="1596.5" font-family="'Liberation Serif','Times New Roman',serif" font-size="59.5" font-weight="normal" fill="#000" text-anchor="start" transform="matrix(1,0,0,1.02,0,-31.93)">Gap = 7 </text>
<text x="1165" y="1596.5" font-family="'Liberation Sans',Arial,sans-serif" font-size="56" font-weight="normal" fill="#000" text-anchor="start" transform="matrix(1,0,0,1.02,0,-31.93)">Å</text>
<text x="1359.86" y="1567.5" font-family="'Liberation Serif','Times New Roman',serif" font-size="59.5" font-weight="normal" fill="#000" text-anchor="start" transform="matrix(1,0,0,1.02,0,-31.35)">Gap = 8 </text>
<text x="1565" y="1567.5" font-family="'Liberation Sans',Arial,sans-serif" font-size="56" font-weight="normal" fill="#000" text-anchor="start" transform="matrix(1,0,0,1.02,0,-31.35)">Å</text>
<line x1="1247.9" y1="1695.1" x2="1106.8" y2="1619.66" stroke="#000" stroke-width="3.6" stroke-linecap="round"/>
<polygon points="1077.7,1604.1 1112.57,1613.11 1104.56,1628.1" fill="#000"/>
<line x1="1393.8" y1="1748.2" x2="1468.59" y2="1592.74" stroke="#000" stroke-width="3.6" stroke-linecap="round"/>
<polygon points="1482.9,1563 1475.39,1598.22 1460.07,1590.85" fill="#000"/>
<line x1="1255.7" y1="1474.6" x2="1255.7" y2="2511" stroke="#404040" stroke-width="6" stroke-linecap="butt" stroke-dasharray="22.4 8 6.6 7.28"/>
<line x1="1395.8" y1="1484.7" x2="1395.8" y2="2493" stroke="#404040" stroke-width="4" stroke-linecap="butt" stroke-dasharray="16.7 6.5 4.5 5.02"/>
<line x1="361" y1="2148.8" x2="507" y2="2148.8" stroke="#E41A1C" stroke-width="7.2" stroke-linecap="round"/>
<circle cx="433.2" cy="2148.3" r="15.1" fill="#E41A1C"/>
<circle cx="428.2" cy="2143.8" r="8.1" fill="#F08A8C"/>
<circle cx="428.2" cy="2143.8" r="5.7" fill="#F8C4C5"/>
<circle cx="428.2" cy="2143.8" r="3.1" fill="#fafafa"/>
<line x1="361" y1="2231.3" x2="507" y2="2231.3" stroke="#377EB8" stroke-width="7.2" stroke-linecap="round"/>
<polygon points="433,2209.83 451,2241.43 415,2241.43" fill="#377EB8"/>
<line x1="361" y1="2313.5" x2="507" y2="2313.5" stroke="#4DAF4A" stroke-width="7.2" stroke-linecap="round"/>
<polygon points="433.3,2296.5 449.47,2308.25 443.29,2327.25 423.31,2327.25 417.13,2308.25" fill="#4DAF4A"/>
<line x1="361" y1="2395.5" x2="414.1" y2="2395.5" stroke="#984EA3" stroke-width="7.2" stroke-linecap="round"/>
<line x1="452.9" y1="2395.5" x2="507" y2="2395.5" stroke="#984EA3" stroke-width="7.2" stroke-linecap="round"/>
<polygon points="433.3,2377.7 437.36,2389.92 450.23,2390 439.86,2397.63 443.76,2409.9 433.3,2402.4 422.84,2409.9 426.74,2397.63 416.37,2390 429.24,2389.92" fill="#984EA3"/>
<text x="522.4" y="2170.2" font-family="'Liberation Serif','Times New Roman',serif" font-size="64" font-weight="bold" fill="#000" text-anchor="start" transform="matrix(1,0,0,1.02,0,-43.4)">0.56 nm</text>
<text x="522.4" y="2252.2" font-family="'Liberation Serif','Times New Roman',serif" font-size="64" font-weight="bold" fill="#000" text-anchor="start" transform="matrix(1,0,0,1.02,0,-45.04)">1.06 nm</text>
<text x="522.4" y="2335.2" font-family="'Liberation Serif','Times New Roman',serif" font-size="64" font-weight="bold" fill="#000" text-anchor="start" transform="matrix(1,0,0,1.02,0,-46.7)">3.06 nm</text>
<text x="522.4" y="2417.2" font-family="'Liberation Serif','Times New Roman',serif" font-size="64" font-weight="bold" fill="#000" text-anchor="start" transform="matrix(1,0,0,1.02,0,-48.34)">5.06 nm</text>
<line x1="274" y1="2511" x2="274" y2="2493" stroke="#000" stroke-width="8" stroke-linecap="butt"/>
<line x1="274" y1="1470" x2="274" y2="1488" stroke="#000" stroke-width="8" stroke-linecap="butt"/>
<line x1="414.2" y1="2511" x2="414.2" y2="2503.5" stroke="#000" stroke-width="8" stroke-linecap="butt"/>
<line x1="414.2" y1="1470" x2="414.2" y2="1477.5" stroke="#000" stroke-width="8" stroke-linecap="butt"/>
<line x1="554.4" y1="2511" x2="554.4" y2="2493" stroke="#000" stroke-width="8" stroke-linecap="butt"/>
<line x1="554.4" y1="1470" x2="554.4" y2="1488" stroke="#000" stroke-width="8" stroke-linecap="butt"/>
<line x1="694.6" y1="2511" x2="694.6" y2="2503.5" stroke="#000" stroke-width="8" stroke-linecap="butt"/>
<line x1="694.6" y1="1470" x2="694.6" y2="1477.5" stroke="#000" stroke-width="8" stroke-linecap="butt"/>
<line x1="834.8" y1="2511" x2="834.8" y2="2493" stroke="#000" stroke-width="8" stroke-linecap="butt"/>
<line x1="834.8" y1="1470" x2="834.8" y2="1488" stroke="#000" stroke-width="8" stroke-linecap="butt"/>
<line x1="975" y1="2511" x2="975" y2="2503.5" stroke="#000" stroke-width="8" stroke-linecap="butt"/>
<line x1="975" y1="1470" x2="975" y2="1477.5" stroke="#000" stroke-width="8" stroke-linecap="butt"/>
<line x1="1115.2" y1="2511" x2="1115.2" y2="2493" stroke="#000" stroke-width="8" stroke-linecap="butt"/>
<line x1="1115.2" y1="1470" x2="1115.2" y2="1488" stroke="#000" stroke-width="8" stroke-linecap="butt"/>
<line x1="1255.4" y1="2511" x2="1255.4" y2="2503.5" stroke="#000" stroke-width="8" stroke-linecap="butt"/>
<line x1="1255.4" y1="1470" x2="1255.4" y2="1477.5" stroke="#000" stroke-width="8" stroke-linecap="butt"/>
<line x1="1395.6" y1="2511" x2="1395.6" y2="2493" stroke="#000" stroke-width="8" stroke-linecap="butt"/>
<line x1="1395.6" y1="1470" x2="1395.6" y2="1488" stroke="#000" stroke-width="8" stroke-linecap="butt"/>
<line x1="1535.8" y1="2511" x2="1535.8" y2="2503.5" stroke="#000" stroke-width="8" stroke-linecap="butt"/>
<line x1="1535.8" y1="1470" x2="1535.8" y2="1477.5" stroke="#000" stroke-width="8" stroke-linecap="butt"/>
<line x1="208" y1="2490" x2="226.5" y2="2490" stroke="#000" stroke-width="8" stroke-linecap="butt"/>
<line x1="1602" y1="2490" x2="1583.5" y2="2490" stroke="#000" stroke-width="8" stroke-linecap="butt"/>
<line x1="208" y1="2387.46" x2="216" y2="2387.46" stroke="#000" stroke-width="8" stroke-linecap="butt"/>
<line x1="1602" y1="2387.46" x2="1594" y2="2387.46" stroke="#000" stroke-width="8" stroke-linecap="butt"/>
<line x1="208" y1="2284.92" x2="226.5" y2="2284.92" stroke="#000" stroke-width="8" stroke-linecap="butt"/>
<line x1="1602" y1="2284.92" x2="1583.5" y2="2284.92" stroke="#000" stroke-width="8" stroke-linecap="butt"/>
<line x1="208" y1="2182.38" x2="216" y2="2182.38" stroke="#000" stroke-width="8" stroke-linecap="butt"/>
<line x1="1602" y1="2182.38" x2="1594" y2="2182.38" stroke="#000" stroke-width="8" stroke-linecap="butt"/>
<line x1="208" y1="2079.84" x2="226.5" y2="2079.84" stroke="#000" stroke-width="8" stroke-linecap="butt"/>
<line x1="1602" y1="2079.84" x2="1583.5" y2="2079.84" stroke="#000" stroke-width="8" stroke-linecap="butt"/>
<line x1="208" y1="1977.3" x2="216" y2="1977.3" stroke="#000" stroke-width="8" stroke-linecap="butt"/>
<line x1="1602" y1="1977.3" x2="1594" y2="1977.3" stroke="#000" stroke-width="8" stroke-linecap="butt"/>
<line x1="208" y1="1874.76" x2="226.5" y2="1874.76" stroke="#000" stroke-width="8" stroke-linecap="butt"/>
<line x1="1602" y1="1874.76" x2="1583.5" y2="1874.76" stroke="#000" stroke-width="8" stroke-linecap="butt"/>
<line x1="208" y1="1772.22" x2="216" y2="1772.22" stroke="#000" stroke-width="8" stroke-linecap="butt"/>
<line x1="1602" y1="1772.22" x2="1594" y2="1772.22" stroke="#000" stroke-width="8" stroke-linecap="butt"/>
<line x1="208" y1="1669.68" x2="226.5" y2="1669.68" stroke="#000" stroke-width="8" stroke-linecap="butt"/>
<line x1="1602" y1="1669.68" x2="1583.5" y2="1669.68" stroke="#000" stroke-width="8" stroke-linecap="butt"/>
<line x1="208" y1="1567.14" x2="216" y2="1567.14" stroke="#000" stroke-width="8" stroke-linecap="butt"/>
<line x1="1602" y1="1567.14" x2="1594" y2="1567.14" stroke="#000" stroke-width="8" stroke-linecap="butt"/>
<rect x="200.5" y="1461" width="1409.5" height="9" fill="#000"/>
<rect x="200.5" y="2511" width="1409.5" height="9" fill="#000"/>
<rect x="200.5" y="1461" width="7.5" height="1059" fill="#000"/>
<rect x="1602" y="1461" width="8" height="1059" fill="#000"/>
<text x="179.4" y="2509.5" font-family="'Liberation Serif','Times New Roman',serif" font-size="65" font-weight="bold" fill="#000" text-anchor="end" transform="matrix(1,0,0,1.045,0,-112.93)">0</text>
<text x="179.4" y="2304.42" font-family="'Liberation Serif','Times New Roman',serif" font-size="65" font-weight="bold" fill="#000" text-anchor="end" transform="matrix(1,0,0,1.045,0,-103.7)">4</text>
<text x="179.4" y="2099.34" font-family="'Liberation Serif','Times New Roman',serif" font-size="65" font-weight="bold" fill="#000" text-anchor="end" transform="matrix(1,0,0,1.045,0,-94.47)">8</text>
<text x="179.4" y="1894.26" font-family="'Liberation Serif','Times New Roman',serif" font-size="65" font-weight="bold" fill="#000" text-anchor="end" transform="matrix(1,0,0,1.045,0,-85.24)">12</text>
<text x="179.4" y="1689.18" font-family="'Liberation Serif','Times New Roman',serif" font-size="65" font-weight="bold" fill="#000" text-anchor="end" transform="matrix(1,0,0,1.045,0,-76.01)">16</text>
<text x="179.4" y="1484.1" font-family="'Liberation Serif','Times New Roman',serif" font-size="65" font-weight="bold" fill="#000" text-anchor="end" transform="matrix(1,0,0,1.045,0,-66.78)">20</text>
<text x="274" y="2590.5" font-family="'Liberation Serif','Times New Roman',serif" font-size="65" font-weight="bold" fill="#000" text-anchor="middle" transform="matrix(1,0,0,1.045,0,-116.57)">0</text>
<text x="554.4" y="2590.5" font-family="'Liberation Serif','Times New Roman',serif" font-size="65" font-weight="bold" fill="#000" text-anchor="middle" transform="matrix(1,0,0,1.045,0,-116.57)">2</text>
<text x="834.8" y="2590.5" font-family="'Liberation Serif','Times New Roman',serif" font-size="65" font-weight="bold" fill="#000" text-anchor="middle" transform="matrix(1,0,0,1.045,0,-116.57)">4</text>
<text x="1115.2" y="2590.5" font-family="'Liberation Serif','Times New Roman',serif" font-size="65" font-weight="bold" fill="#000" text-anchor="middle" transform="matrix(1,0,0,1.045,0,-116.57)">6</text>
<text x="1395.6" y="2590.5" font-family="'Liberation Serif','Times New Roman',serif" font-size="65" font-weight="bold" fill="#000" text-anchor="middle" transform="matrix(1,0,0,1.045,0,-116.57)">8</text>
<text x="70.22" y="1412" font-family="'Liberation Serif','Times New Roman',serif" font-size="81.5" font-weight="bold" fill="#000" text-anchor="start">(b)</text>
<text x="795.83" y="2685" font-family="'Liberation Serif','Times New Roman',serif" font-size="65" font-weight="bold" fill="#000" text-anchor="start" transform="matrix(1,0,0,1.02,0,-53.7)">Gap (</text>
<text x="949.2" y="2685" font-family="'Liberation Sans',Arial,sans-serif" font-size="65" font-weight="bold" fill="#000" text-anchor="start" transform="matrix(1,0,0,1.02,0,-53.7)">Å</text>
<text x="992.01" y="2685" font-family="'Liberation Serif','Times New Roman',serif" font-size="65" font-weight="bold" fill="#000" text-anchor="start" transform="matrix(1,0,0,1.02,0,-53.7)">)</text>
<text transform="translate(82,2129.6) rotate(-90) scale(1,1.02)" x="0" y="0" font-family="'Liberation Serif','Times New Roman',serif" font-size="64" font-weight="bold" fill="#000">Flux (ns<tspan font-size="42.9" dy="-27">-1</tspan><tspan dy="27">)</tspan></text></svg>
</body></html>
